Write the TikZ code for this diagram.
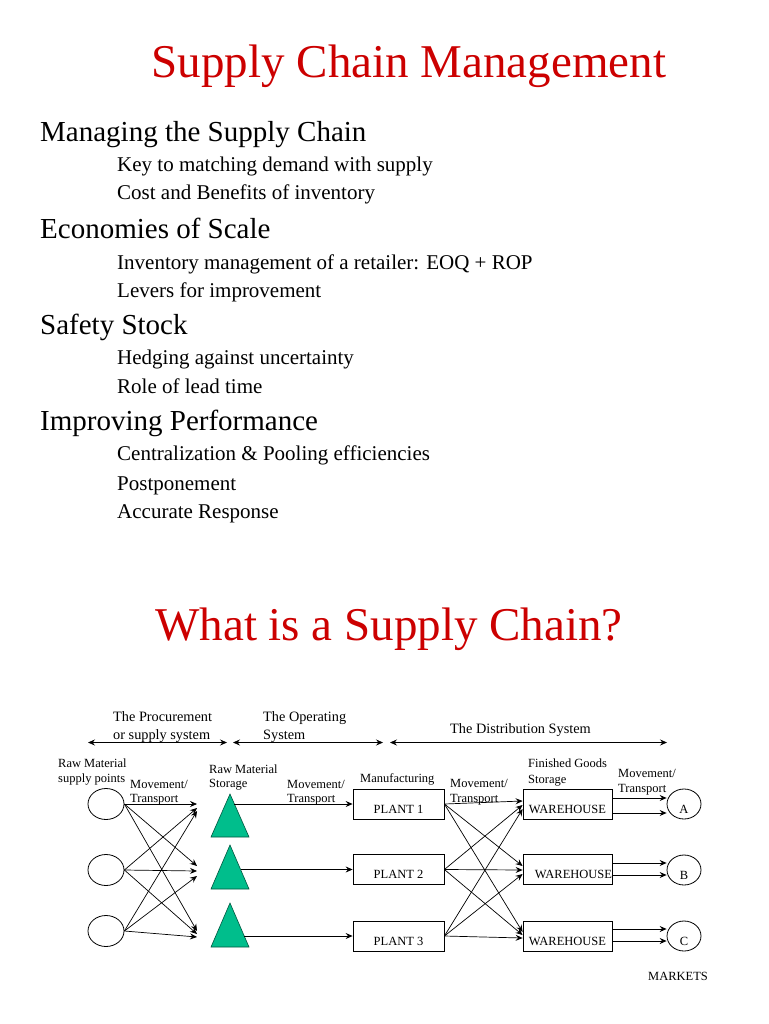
\documentclass[tikz,border=0pt]{standalone}
\usepackage{fontspec}
\setmainfont{Liberation Serif}
\usetikzlibrary{arrows.meta,shapes.geometric}
\definecolor{titlered}{RGB}{204,0,0}
\definecolor{tealgreen}{RGB}{0,190,140}
\begin{document}
\begin{tikzpicture}[x=1pt,y=-1pt,
  titletext/.style={font=\fontsize{47}{56}\selectfont, text=titlered, inner sep=0, anchor=base},
  headtext/.style={font=\fontsize{29}{34}\selectfont, inner sep=0, anchor=base west},
  subtext/.style={font=\fontsize{21}{25}\selectfont, inner sep=0, anchor=base west},
  lbl/.style={font=\fontsize{12.5}{14}\selectfont, inner sep=0, anchor=base west},
  clbl/.style={font=\fontsize{12.5}{14}\selectfont, inner sep=0, anchor=base},
  toplbl/.style={font=\fontsize{14.3}{16}\selectfont, inner sep=0, anchor=base west},
  src/.style={ellipse, draw, line width=0.8pt, minimum width=36, minimum height=31, inner sep=0},
  mkt/.style={ellipse, draw, line width=0.8pt, minimum width=34, minimum height=30, inner sep=0},
  box/.style={rectangle, draw, line width=0.8pt, minimum width=91, minimum height=30, inner sep=0},
  whbox/.style={rectangle, draw, line width=0.8pt, minimum width=89, minimum height=30, inner sep=0},
  tri/.style={fill=tealgreen, draw=black!55!tealgreen, line width=0.6pt},
  flow/.style={-{Stealth[length=7pt,width=6pt,inset=2.5pt]}, line width=0.7pt},
  span/.style={{Stealth[length=7pt,width=6pt,inset=2.5pt]}-{Stealth[length=7pt,width=6pt,inset=2.5pt]}, line width=0.7pt}
]
\useasboundingbox (0,0) rectangle (768,1024);
\fill[white] (0,0) rectangle (768,1024);

% ---- Slide 1 ----
\node[titletext] (title1) at (409,78) {Supply Chain Management};
\node[headtext] (h1) at (40,142) {Managing the Supply Chain};
\node[subtext] (s11) at (117,172) {Key to matching demand with supply};
\node[subtext] (s12) at (117,200) {Cost and Benefits of inventory};
\node[headtext] (h2) at (40,238) {Economies of Scale};
\node[subtext] (s21) at (117,269) {Inventory management of a retailer: EOQ + ROP};
\node[subtext] (s22) at (117,297) {Levers for improvement};
\node[headtext] (h3) at (40,334) {Safety Stock};
\node[subtext] (s31) at (117,364) {Hedging against uncertainty};
\node[subtext] (s32) at (117,393) {Role of lead time};
\node[headtext] (h4) at (40,430) {Improving Performance};
\node[subtext] (s41) at (117,460) {Centralization \& Pooling efficiencies};
\node[subtext] (s42) at (117,490) {Postponement};
\node[subtext] (s43) at (117,518) {Accurate Response};

% ---- Slide 2 ----
\node[titletext] (title2) at (389,640) {What is a Supply Chain?};

% top labels and spans
\node[toplbl] (ps1) at (113,721.5) {The Procurement};
\node[toplbl] (ps2) at (113,739) {or supply system};
\node[toplbl] (os1) at (263,721.5) {The Operating};
\node[toplbl] (os2) at (263,739) {System};
\node[toplbl] (ds) at (450,733) {The Distribution System};
\coordinate (a1l) at (88,742.5);  \coordinate (a1r) at (227,742.5);
\coordinate (a2l) at (233,742.5); \coordinate (a2r) at (383,742.5);
\coordinate (a3l) at (390,742.5); \coordinate (a3r) at (667,742.5);
\draw[span] (a1l) -- (a1r);
\draw[span] (a2l) -- (a2r);
\draw[span] (a3l) -- (a3r);

% small labels
\node[lbl] (rm1) at (58,767) {Raw Material};
\node[lbl] (rm2) at (58,782) {supply points};
\node[lbl] (mv1a) at (130,788) {Movement/};
\node[lbl] (mv1b) at (130,802) {Transport};
\node[lbl] (rs1) at (209,773) {Raw Material};
\node[lbl] (rs2) at (209,787) {Storage};
\node[lbl] (mv2a) at (287,788) {Movement/};
\node[lbl] (mv2b) at (287,802) {Transport};
\node[lbl] (mf) at (360,782) {Manufacturing};
\node[lbl] (mv3a) at (450,787) {Movement/};
\node[lbl] (mv3b) at (450,802) {Transport};
\node[lbl] (fg1) at (528,767) {Finished Goods};
\node[lbl] (fg2) at (528,783) {Storage};
\node[lbl] (mv4a) at (618,777) {Movement/};
\node[lbl] (mv4b) at (618,792) {Transport};
\node[clbl] (mk) at (678,980) {MARKETS};

% raw material supply points
\node[src] (c1) at (106,804) {};
\node[src] (c2) at (106,870) {};
\node[src] (c3) at (106,931) {};

% convergence points before storage
\coordinate (r1a) at (197,804); \coordinate (r1b) at (197,808); \coordinate (r1c) at (197,811);
\coordinate (r2a) at (197,866); \coordinate (r2b) at (197,871); \coordinate (r2c) at (197,876);
\coordinate (r3a) at (197,931); \coordinate (r3b) at (197,934); \coordinate (r3c) at (197,937);
\foreach \c/\s in {c1/a, c2/b, c3/c}{
  \draw[flow] (\c.east) -- (r1\s);
  \draw[flow] (\c.east) -- (r2\s);
  \draw[flow] (\c.east) -- (r3\s);
}

% raw material storage triangles
\coordinate (tr1) at (230,794); \coordinate (tr2) at (230,845); \coordinate (tr3) at (230,903);
\filldraw[tri] (tr1) -- (249,837) -- (211,837) -- cycle;
\filldraw[tri] (tr2) -- (249,889) -- (211,889) -- cycle;
\filldraw[tri] (tr3) -- (249,947) -- (211,947) -- cycle;
\coordinate (ts1) at (234.4,804);
\coordinate (ts2) at (240.6,869.5);
\coordinate (ts3) at (244.3,936);

% plants
\node[box] (p1) at (398.5,804) {};
\node[box] (p2) at (398.5,869.5) {};
\node[box] (p3) at (398.5,936) {};
\node[clbl] (p1t) at ([yshift=-9]p1.center) {PLANT 1};
\node[clbl] (p2t) at ([yshift=-9]p2.center) {PLANT 2};
\node[clbl] (p3t) at ([yshift=-9]p3.center) {PLANT 3};
\draw[flow] (ts1) -- (p1.west);
\draw[flow] (ts2) -- (p2.west);
\draw[flow] (ts3) -- (p3.west);

% warehouses
\node[whbox] (w1) at (567.5,804) {};
\node[whbox] (w2) at (567.5,869.5) {};
\node[whbox] (w3) at (567.5,936) {};
\node[clbl] (w1t) at ([yshift=-9]w1.center) {WAREHOUSE};
\node[clbl] (w2t) at ([xshift=6,yshift=-9]w2.center) {WAREHOUSE};
\node[clbl] (w3t) at ([yshift=-9]w3.center) {WAREHOUSE};

\draw[flow] (p1.east) -- ([yshift=3]w1.west);
\draw[flow] (p1.east) -- ([yshift=3.5]w2.west);
\draw[flow] (p1.east) -- ([yshift=4]w3.west);
\draw[flow] (p2.east) -- ([yshift=-1]w1.west);
\draw[flow] (p2.east) -- ([yshift=-0.5]w2.west);
\draw[flow] (p2.east) -- ([yshift=1]w3.west);
\draw[flow] (p3.east) -- ([yshift=-5]w1.west);
\draw[flow] (p3.east) -- ([yshift=-4.5]w2.west);
\draw[flow] (p3.east) -- ([yshift=-2]w3.west);

% markets
\node[mkt] (m1) at (684,804) {};
\node[mkt] (m2) at (684,870) {};
\node[mkt] (m3) at (684,936) {};
\node[clbl] (m1t) at ([yshift=-9.5]m1.center) {A};
\node[clbl] (m2t) at ([yshift=-9.5]m2.center) {B};
\node[clbl] (m3t) at ([yshift=-9.5]m3.center) {C};

\draw[flow] ([yshift=6]w1.east) -- ([yshift=6]w1.east -| m1.west);
\draw[flow] ([yshift=-9]w1.east) -- ([yshift=-9]w1.east -| m1.west);
\draw[flow] ([yshift=6.5]w2.east) -- ([yshift=6.5]w2.east -| m2.west);
\draw[flow] ([yshift=-5.5]w2.east) -- ([yshift=-5.5]w2.east -| m2.west);
\draw[flow] ([yshift=7]w3.east) -- ([yshift=7]w3.east -| m3.west);
\draw[flow] ([yshift=-5]w3.east) -- ([yshift=-5]w3.east -| m3.west);
\end{tikzpicture}
\end{document}
